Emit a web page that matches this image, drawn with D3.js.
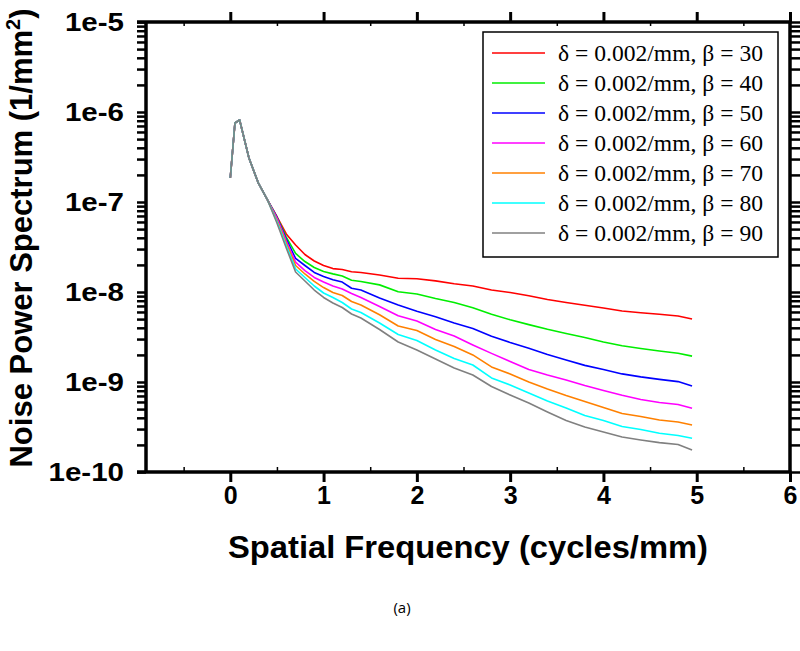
<!DOCTYPE html>
<html><head><meta charset="utf-8">
<script src="https://cdn.jsdelivr.net/npm/d3@7"></script>
<style>body{margin:0;background:#fff}</style>
</head><body>
<svg id="chart" width="800" height="651"></svg>
<script>
// ---- data ----
const freq = [0,0.05,0.1,0.2,0.3,0.4,0.5,0.6,0.7,0.8,0.9,1.0,1.1,1.2,1.3,1.4,1.6,1.8,2.0,2.2,2.4,2.6,2.8,3.0,3.2,3.4,3.6,3.8,4.0,4.2,4.4,4.6,4.8,4.95];
const betas = [30,40,50,60,70,80,90];
const colors = ["#ff0000","#00ee00","#0000ff","#ff00ff","#ff8000","#00ffff","#808080"];
const nps30 = [1.85e-7,7.55e-7,8.15e-7,3.08e-7,1.63e-7,1.05e-7,6.90e-8,4.41e-8,3.33e-8,2.61e-8,2.21e-8,1.97e-8,1.82e-8,1.78e-8,1.68e-8,1.65e-8,1.545e-8,1.42e-8,1.405e-8,1.33e-8,1.236e-8,1.166e-8,1.052e-8,9.87e-9,9.10e-9,8.25e-9,7.64e-9,7.13e-9,6.64e-9,6.15e-9,5.87e-9,5.65e-9,5.41e-9,5.01e-9];
const nps40 = [1.85e-7,7.55e-7,8.15e-7,3.08e-7,1.63e-7,1.05e-7,6.81e-8,4.08e-8,2.68e-8,2.18e-8,1.87e-8,1.69e-8,1.59e-8,1.506e-8,1.35e-8,1.31e-8,1.20e-8,1.008e-8,9.50e-9,8.47e-9,7.64e-9,6.67e-9,5.65e-9,4.91e-9,4.34e-9,3.85e-9,3.46e-9,3.12e-9,2.78e-9,2.53e-9,2.36e-9,2.21e-9,2.09e-9,1.94e-9];
const nps50 = [1.85e-7,7.55e-7,8.15e-7,3.08e-7,1.63e-7,1.05e-7,6.73e-8,3.88e-8,2.36e-8,1.97e-8,1.65e-8,1.49e-8,1.37e-8,1.29e-8,1.10e-8,1.052e-8,8.58e-9,7.17e-9,6.10e-9,5.30e-9,4.52e-9,3.93e-9,3.23e-9,2.75e-9,2.37e-9,2.02e-9,1.76e-9,1.53e-9,1.38e-9,1.23e-9,1.14e-9,1.07e-9,1.01e-9,9.03e-10];
const nps60 = [1.85e-7,7.55e-7,8.15e-7,3.08e-7,1.63e-7,1.05e-7,6.64e-8,3.69e-8,2.15e-8,1.73e-8,1.45e-8,1.29e-8,1.166e-8,1.08e-8,9.62e-9,8.69e-9,6.90e-9,5.44e-9,4.76e-9,3.83e-9,3.24e-9,2.58e-9,2.08e-9,1.69e-9,1.38e-9,1.196e-9,1.05e-9,9.14e-10,8.05e-10,7.11e-10,6.39e-10,5.92e-10,5.62e-10,5.10e-10];
const nps70 = [1.85e-7,7.55e-7,8.15e-7,3.08e-7,1.63e-7,1.05e-7,6.31e-8,3.50e-8,1.97e-8,1.585e-8,1.31e-8,1.12e-8,9.87e-9,9.14e-9,7.84e-9,7.17e-9,5.59e-9,4.19e-9,3.73e-9,2.97e-9,2.48e-9,2.00e-9,1.47e-9,1.23e-9,1.00e-9,8.36e-10,7.08e-10,6.07e-10,5.21e-10,4.47e-10,4.14e-10,3.78e-10,3.59e-10,3.33e-10];
const nps80 = [1.85e-7,7.55e-7,8.15e-7,3.08e-7,1.63e-7,1.05e-7,6.07e-8,3.29e-8,1.80e-8,1.45e-8,1.166e-8,9.75e-9,8.69e-9,7.64e-9,6.47e-9,5.92e-9,4.52e-9,3.37e-9,2.89e-9,2.27e-9,1.82e-9,1.545e-9,1.11e-9,9.26e-10,7.55e-10,6.15e-10,5.14e-10,4.24e-10,3.73e-10,3.20e-10,2.97e-10,2.69e-10,2.54e-10,2.37e-10];
const nps90 = [1.85e-7,7.55e-7,8.15e-7,3.08e-7,1.63e-7,1.05e-7,5.84e-8,3.08e-8,1.67e-8,1.325e-8,1.052e-8,8.69e-9,7.55e-9,6.73e-9,5.70e-9,5.14e-9,3.83e-9,2.78e-9,2.27e-9,1.80e-9,1.43e-9,1.196e-9,8.91e-10,7.17e-10,5.84e-10,4.64e-10,3.73e-10,3.16e-10,2.78e-10,2.45e-10,2.27e-10,2.12e-10,2.02e-10,1.76e-10];
const series = [nps30,nps40,nps50,nps60,nps70,nps80,nps90];
const xMajorTicks = [0,1,2,3,4,5,6];
const xMinorTicks = [-0.5,0.5,1.5,2.5,3.5,4.5,5.5];
const yDecades = [1e-10,1e-9,1e-8,1e-7,1e-6,1e-5];
const yTickLabels = ["1e-10","1e-9","1e-8","1e-7","1e-6","1e-5"];
const xTitle = "Spatial Frequency (cycles/mm)";
const caption = "(a)";

// ---- layout ----
const svg = d3.select("#chart");
const L = 137, R = 790, T = 22, B = 472, yAxisX = 146;
const x = d3.scaleLinear().domain([-1, 6]).range([L, R]);
const y = d3.scaleLog().domain([1e-10, 1e-5]).range([B, T]);

const bold = "'Liberation Sans', Arial, sans-serif";
const serif = "'Liberation Serif', 'Times New Roman', serif";

const yAll = [];
for (let e = -10; e < -5; e++) for (let m = 1; m < 10; m++) yAll.push(m * Math.pow(10, e));
yAll.push(1e-5);

function styleAxis(g, w) {
  g.select(".domain").remove();
  g.selectAll(".tick line").attr("stroke", "#000").attr("stroke-width", w);
}

// left axis
const gl = svg.append("g").attr("transform", `translate(${yAxisX},0)`)
  .call(d3.axisLeft(y).tickValues(yAll).tickSize(9).tickPadding(13)
    .tickFormat(d => { const i = yDecades.findIndex(v => Math.abs(v - d) / d < 1e-6); return i >= 0 ? yTickLabels[i] : ""; }));
styleAxis(gl, 2.5);
gl.selectAll(".tick text").attr("font-family", bold).attr("font-weight", "bold").attr("font-size", 25).attr("fill", "#000")
  .each(function () {
    const t = d3.select(this);
    if (t.text()) {
      const w = this.getComputedTextLength();
      t.attr("textLength", w * 1.18).attr("lengthAdjust", "spacingAndGlyphs");
    }
  });

// right axis
const gr = svg.append("g").attr("transform", `translate(${R},0)`)
  .call(d3.axisRight(y).tickValues(yAll).tickSize(10).tickFormat(""));
styleAxis(gr, 2.5);

// bottom axis
const gb = svg.append("g").attr("transform", `translate(0,${B})`)
  .call(d3.axisBottom(x).tickValues(xMajorTicks).tickSize(10).tickPadding(4).tickFormat(d3.format("d")));
styleAxis(gb, 3);
gb.selectAll(".tick text").attr("font-family", bold).attr("font-weight", "bold").attr("font-size", 25).attr("fill", "#000");
const gbm = svg.append("g").attr("transform", `translate(0,${B})`)
  .call(d3.axisTop(x).tickValues(xMinorTicks).tickSize(5).tickFormat(""));
styleAxis(gbm, 1.5);

// top axis
const gt = svg.append("g").attr("transform", `translate(0,${T})`)
  .call(d3.axisTop(x).tickValues(xMajorTicks).tickSize(10).tickFormat(""));
styleAxis(gt, 3);
const gtm = svg.append("g").attr("transform", `translate(0,${T})`)
  .call(d3.axisBottom(x).tickValues(xMinorTicks).tickSize(4).tickFormat(""));
styleAxis(gtm, 1.5);

// frame lines
svg.append("line").attr("x1", L).attr("x2", R + 1.5).attr("y1", T).attr("y2", T).attr("stroke", "#000").attr("stroke-width", 3.5);
svg.append("line").attr("x1", L).attr("x2", R + 1.5).attr("y1", B).attr("y2", B).attr("stroke", "#000").attr("stroke-width", 3.5);
svg.append("line").attr("x1", yAxisX).attr("x2", yAxisX).attr("y1", T).attr("y2", B).attr("stroke", "#000").attr("stroke-width", 3.5);
svg.append("line").attr("x1", R).attr("x2", R).attr("y1", T).attr("y2", B).attr("stroke", "#000").attr("stroke-width", 3.5);

// data lines
const line = d3.line().x((d, i) => x(freq[i])).y(d => y(d));
series.forEach((s, k) => {
  svg.append("path").datum(s).attr("d", line).attr("fill", "none")
    .attr("stroke", colors[k]).attr("stroke-width", 1.6).attr("stroke-linejoin", "round");
});

// legend
const lg = svg.append("g");
lg.append("rect").attr("x", 483).attr("y", 32).attr("width", 295).attr("height", 225)
  .attr("fill", "#fff").attr("stroke", "#000").attr("stroke-width", 1.5);
betas.forEach((b, i) => {
  const yy = 53 + i * 30;
  lg.append("line").attr("x1", 492).attr("x2", 545).attr("y1", yy).attr("y2", yy)
    .attr("stroke", colors[i]).attr("stroke-width", 1.6);
  lg.append("text").attr("x", 558).attr("y", yy + 8).attr("font-family", serif).attr("font-size", 24)
    .attr("textLength", 205).attr("lengthAdjust", "spacingAndGlyphs")
    .text(`δ = 0.002/mm, β = ${b}`);
});

// axis titles
svg.append("text").attr("x", 468).attr("y", 558).attr("text-anchor", "middle")
  .attr("font-family", bold).attr("font-weight", "bold").attr("font-size", 31)
  .attr("textLength", 480).attr("lengthAdjust", "spacingAndGlyphs").text(xTitle);

const yt = svg.append("text").attr("transform", "translate(32,238) rotate(-90)").attr("text-anchor", "middle")
  .attr("font-family", bold).attr("font-weight", "bold").attr("font-size", 31);
yt.append("tspan").text("Noise Power Spectrum (1/mm");
yt.append("tspan").attr("font-size", 20).attr("dy", -12).text("2");
yt.append("tspan").attr("dy", 12).text(")");

svg.append("text").attr("x", 402).attr("y", 613).attr("text-anchor", "middle")
  .attr("font-family", "'Open Sans', 'Noto Sans', sans-serif").attr("font-size", 15).text(caption);
</script>
</body></html>
